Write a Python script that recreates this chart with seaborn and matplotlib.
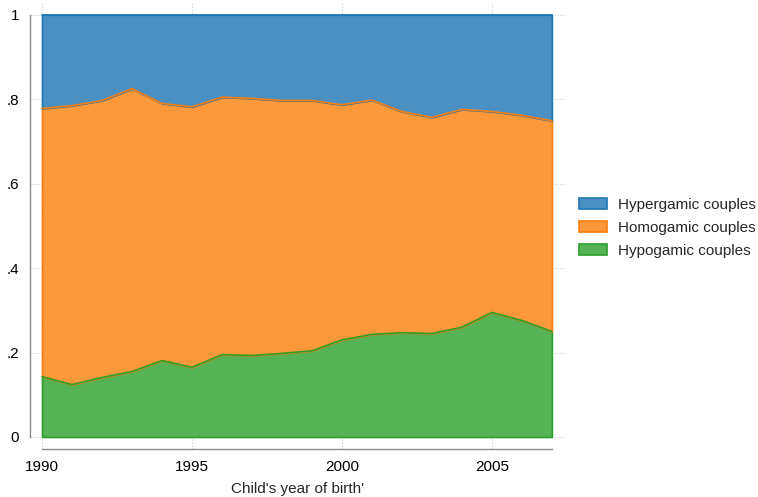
import numpy as np
import pandas as pd
import matplotlib.pyplot as plt
import seaborn as sns

# --- data (shares by child's year of birth) ---
years = list(range(1990, 2008))
hypogamic = [0.143, 0.124, 0.141, 0.155, 0.181, 0.165, 0.195, 0.193, 0.198,
             0.204, 0.230, 0.243, 0.247, 0.245, 0.260, 0.295, 0.276, 0.250]
# cumulative share hypogamic + homogamic
homo_top = [0.778, 0.785, 0.797, 0.825, 0.790, 0.782, 0.805, 0.802, 0.797,
            0.797, 0.787, 0.798, 0.771, 0.757, 0.776, 0.771, 0.762, 0.749]
homogamic = [t - h for t, h in zip(homo_top, hypogamic)]
hypergamic = [1 - t for t in homo_top]

labels = ['Hypergamic couples', 'Homogamic couples', 'Hypogamic couples']

df = pd.DataFrame({'year': years, 'Hypogamic couples': hypogamic,
                   'Homogamic couples': homogamic, 'Hypergamic couples': hypergamic})

sns.set_style('white')
plt.rcParams['font.family'] = ['Liberation Sans', 'DejaVu Sans']

fig = plt.figure(figsize=(7.58, 4.97), dpi=100)
ax = fig.add_axes([30 / 758, 48 / 497, 536 / 758, 446 / 497])

edges = {'Hypogamic couples': '#2ca02c', 'Homogamic couples': '#ff7f0e', 'Hypergamic couples': '#1f77b4'}
fills = {'Hypogamic couples': '#55b255', 'Homogamic couples': '#fd983b', 'Hypergamic couples': '#4a90c2'}

# stack from the bottom up
base = np.zeros(len(years))
handles = {}
for name in ['Hypogamic couples', 'Homogamic couples', 'Hypergamic couples']:
    top = base + df[name].values
    h = ax.fill_between(df['year'], base, top, facecolor=fills[name], edgecolor=edges[name],
                        linewidth=1.2, zorder=2)
    sns.lineplot(x=df['year'], y=top, color=edges[name], linewidth=1.2, ax=ax, zorder=3)
    handles[name] = h
    base = top

ax.set_xlim(1989.6, 2007.47)
ax.set_ylim(-0.0285, 1.028)

ax.set_xticks([1990, 1995, 2000, 2005])
ax.set_yticks([0, 0.2, 0.4, 0.6, 0.8, 1.0])
ax.set_yticklabels(['0', '.2', '.4', '.6', '.8', '1'])
ax.grid(True, linestyle=':', color='#c8c8c8', linewidth=0.8, zorder=0)
ax.set_axisbelow(True)

for s in ['top', 'right']:
    ax.spines[s].set_visible(False)
for s in ['left', 'bottom']:
    ax.spines[s].set_color('#8c8c8c')
    ax.spines[s].set_linewidth(1.0)
ax.spines['left'].set_bounds(0, 1)
ax.spines['bottom'].set_bounds(1990, 2007)
ax.tick_params(axis='both', which='major', direction='out', length=5, width=1,
               color='#8c8c8c', labelsize=11, labelcolor='black', pad=3)

ax.set_xlabel("Child's year of birth'", fontsize=11, labelpad=6)
ax.set_ylabel('')

leg = fig.legend([handles[l] for l in labels], labels, loc='center left',
                 bbox_to_anchor=(579 / 758, 1 - 228 / 497), frameon=False, borderpad=0,
                 borderaxespad=0, fontsize=11, handlelength=1.8, handleheight=0.75,
                 handletextpad=0.75, labelspacing=0.6)

fig.savefig('out.png', dpi=100)
